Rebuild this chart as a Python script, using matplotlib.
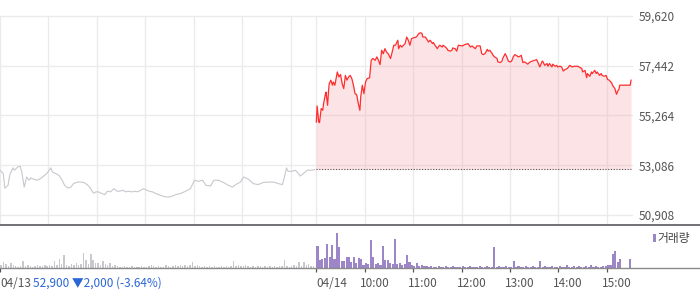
import matplotlib
matplotlib.use('Agg')
import matplotlib.pyplot as plt
from matplotlib.lines import Line2D
from matplotlib.patches import Rectangle
import matplotlib.transforms as mtransforms

plt.rcParams['font.family'] = ['Noto Sans CJK KR', 'DejaVu Sans']

# ---------------- data ----------------
day_labels = ['04/13', '04/14']
hour_labels = ['10:00', '11:00', '12:00', '13:00', '14:00', '15:00']
price_ticks = [50908, 53086, 55264, 57442, 59620]
prev_close = 52900
change_text = '52,900 \u25bc2,000 (-3.64%)'
volume_label = '거래량'

# minutes after 09:00
t_0413 = [0, 4, 6, 10, 12, 16, 18, 22, 25, 27, 30, 33, 36, 38, 42, 46, 51, 54, 58, 63,
          65, 69, 73, 77, 80, 84, 88, 91, 96, 100, 104, 108, 111, 116, 119, 122, 126, 130,
          133, 137, 141, 145, 148, 152, 156, 159, 163, 167, 171, 174, 178, 182, 185, 189,
          193, 199, 205, 211, 218, 224, 230, 236, 241, 246, 251, 255, 261, 265, 271, 277,
          283, 288, 294, 298, 302, 308, 314, 320, 326, 333, 339, 345, 350, 352, 355, 357,
          362, 366, 370, 372, 376, 381, 387, 390]
p_0413 = [52870, 52730, 52080, 52210, 52650, 52970, 52870, 53010, 53040, 52790, 52130,
          52570, 52430, 52530, 52470, 52430, 52520, 52610, 52720, 52970, 52790, 52720,
          52650, 52430, 52210, 52090, 52130, 52280, 52350, 52350, 52330, 52240, 52130,
          51860, 51920, 51920, 51850, 51800, 51950, 51920, 52060, 51950, 51950, 51990,
          51920, 51950, 51920, 51950, 51920, 51990, 52060, 51990, 51950, 51920, 51850,
          51770, 51700, 51700, 51800, 51850, 51950, 52060, 52430, 52380, 52430, 52210,
          52180, 52430, 52430, 52330, 52210, 52130, 52280, 52350, 52570, 52470, 52280,
          52240, 52330, 52350, 52350, 52280, 52240, 52500, 52970, 52820, 52820, 52870,
          52720, 52610, 52720, 52870, 52870, 52900]

t_0414 = [0, 1, 3, 4, 6, 8, 9, 11, 12, 14, 15, 16, 18, 20, 21, 23, 26, 28, 30, 32, 34, 36,
          38, 40, 42, 44, 46, 48, 50, 52, 54, 55, 57, 59, 61, 63, 66, 68, 70, 73, 75, 77,
          79, 81, 83, 85, 87, 89, 92, 94, 96, 98, 101, 102, 104, 106, 108, 110, 112, 114,
          116, 118, 120, 124, 127, 129, 131, 132, 135, 137, 139, 141, 144, 145, 147, 150,
          151, 153, 156, 157, 160, 162, 163, 166, 168, 169, 172, 174, 176, 181, 184, 188,
          191, 193, 197, 199, 203, 205, 207, 209, 212, 213, 215, 218, 219, 221, 224, 225,
          228, 230, 231, 234, 236, 238, 240, 242, 244, 246, 249, 250, 252, 254, 256, 258,
          261, 262, 265, 268, 273, 275, 277, 280, 281, 283, 286, 287, 289, 292, 293, 296,
          298, 299, 302, 304, 306, 308, 311, 312, 314, 317, 320, 324, 329, 330, 333, 335,
          336, 339, 341, 342, 345, 347, 348, 351, 353, 354, 357, 359, 361, 363, 366, 367,
          370, 372, 374, 375, 376, 389, 390]
p_0414 = [54980, 55680, 54980, 54950, 55570, 55490, 55790, 56150, 56290, 55710, 56290,
          56660, 56810, 56590, 56730, 56590, 57170, 56950, 57060, 56660, 56440, 57020,
          56810, 56950, 57020, 56880, 56590, 56220, 56180, 55790, 55490, 56070, 56590,
          56220, 56730, 56880, 56910, 57680, 57760, 57680, 57830, 57680, 57490, 58120,
          57970, 58190, 58040, 57970, 57760, 58040, 58340, 58340, 58560, 58190, 58340,
          58260, 58340, 58410, 58700, 58560, 58340, 58630, 58660, 58700, 58850, 58890,
          58850, 58700, 58700, 58600, 58480, 58560, 58410, 58460, 58340, 58190, 58260,
          58340, 58260, 58340, 58260, 58190, 58120, 58080, 58120, 58220, 58190, 58080,
          58340, 58310, 58370, 58410, 58260, 58310, 58190, 58310, 58310, 57970, 57930,
          57970, 58160, 58080, 58120, 57970, 57900, 57830, 57760, 57610, 57580, 57640,
          57760, 57970, 57830, 57640, 57610, 57640, 57830, 57930, 57870, 57830, 57850,
          57900, 57580, 57610, 57540, 57510, 57610, 57650, 57710, 57560, 57390, 57650,
          57610, 57460, 57540, 57420, 57540, 57390, 57510, 57420, 57460, 57390, 57420,
          57390, 57210, 57270, 57320, 57360, 57460, 57390, 57420, 57420, 57320, 57170,
          57240, 56920, 57100, 56980, 57170, 57100, 57240, 57100, 57170, 57020, 57100,
          57020, 56980, 57020, 56840, 56810, 56690, 56590, 56440, 56190, 56370, 56400,
          56590, 56590, 56810]

# volume per 3-minute bin (130 bins per session)
vol_0413 = [30, 60, 40, 20, 50, 30, 20, 10, 20, 70,
            20, 30, 20, 10, 20, 30, 20, 20, 30, 20,
            30, 20, 70, 30, 90, 40, 130, 30, 20, 40,
            30, 50, 30, 40, 150, 80, 40, 140, 80, 50,
            50, 30, 70, 40, 30, 50, 20, 30, 20, 10,
            10, 20, 10, 10, 20, 10, 10, 10, 20, 10,
            10, 20, 30, 20, 10, 20, 10, 10, 30, 20,
            10, 20, 30, 20, 30, 20, 30, 20, 30, 60,
            20, 30, 20, 10, 20, 10, 20, 10, 20, 10,
            10, 20, 10, 20, 10, 20, 70, 20, 30, 20,
            20, 30, 20, 10, 20, 10, 20, 20, 10, 20,
            10, 20, 10, 20, 10, 20, 20, 80, 20, 10,
            20, 30, 20, 60, 20, 60, 30, 40, 20, 20]
vol_0414 = [220, 80, 90, 100, 240, 110, 230, 90, 350, 210,
            70, 70, 110, 110, 60, 110, 50, 100, 90, 30,
            50, 40, 280, 110, 40, 50, 30, 220, 80, 80,
            50, 40, 290, 40, 50, 30, 40, 130, 60, 30,
            20, 50, 20, 30, 20, 20, 10, 20, 10, 10,
            20, 10, 10, 20, 10, 10, 20, 10, 10, 10,
            20, 10, 10, 20, 10, 10, 10, 20, 10, 10,
            20, 10, 10, 210, 10, 20, 10, 10, 20, 10,
            10, 70, 10, 20, 10, 10, 20, 10, 10, 20,
            10, 10, 70, 10, 20, 10, 10, 20, 10, 10,
            20, 10, 10, 30, 10, 10, 20, 10, 20, 10,
            10, 20, 10, 30, 10, 20, 10, 10, 20, 20,
            30, 30, 140, 170, 60, 90, 0, 0, 0, 90]

# ---------------- layout ----------------
DAY2 = 392          # position of 04/14 09:00 on the continuous session axis
XMAX = 783.2
W, H = 700, 289
fig = plt.figure(figsize=(W / 100, H / 100), dpi=100)
ax = fig.add_axes([0, 64 / H, 632 / W, 209 / H])
vax = fig.add_axes([0, 21 / H, 632 / W, 42 / H])

grid_c = '#ebebeb'
text_c = '#555555'

# price panel
ax.set_xlim(0, XMAX)
ax.set_ylim(50470, 59620)
for y in price_ticks:
    ax.axhline(y, color=grid_c, lw=1, zorder=0, clip_on=False)
for h in range(7):
    ax.axvline(h * 60, color=grid_c, lw=1, zorder=0)
    ax.axvline(DAY2 + h * 60, color=grid_c, lw=1, zorder=0)

ax.plot(t_0413, p_0413, color='#c8c8ce', lw=0.8, zorder=3)
x2 = [DAY2 + t for t in t_0414]
ax.fill_between(x2, p_0414, prev_close, color='#f5a0a8', alpha=0.28, lw=0, zorder=1)
ax.plot(x2, p_0414, color='#ff2d2d', lw=0.9, zorder=3)
ax.plot([DAY2, DAY2 + 390], [prev_close, prev_close], color='#555555', lw=0.8,
        linestyle=(0, (1, 1.5)), zorder=2)

ax.yaxis.tick_right()
ax.set_yticks(price_ticks)
ax.set_yticklabels([f'{v:,}' for v in price_ticks], fontsize=8.5, color=text_c)
ax.tick_params(axis='y', length=0, pad=4.5)
ax.set_xticks([])
for s in ax.spines.values():
    s.set_visible(False)

# volume panel
vax.set_xlim(0, XMAX)
vax.set_ylim(0, 420)
vax.bar([i * 3 + 1.5 for i in range(len(vol_0413))], vol_0413, width=1.8,
        color='#c8c8cd', lw=0)
vax.bar([DAY2 + i * 3 + 1.5 for i in range(len(vol_0414))], vol_0414, width=2.6,
        color='#9c86c8', lw=0)
tick_pos = [0, DAY2] + [DAY2 + 60 * h for h in range(1, 7)]
vax.set_xticks(tick_pos)
vax.set_xticklabels([''] * len(tick_pos))
vax.tick_params(axis='x', length=3, width=0.9, color='#555555', direction='out')
vax.set_yticks([])
for s in vax.spines.values():
    s.set_visible(False)

# full-width rules
fig.add_artist(Line2D([0, 1], [64 / H, 64 / H], transform=fig.transFigure,
                      color='#707075', lw=1.4))
fig.add_artist(Line2D([0, 1], [21 / H, 21 / H], transform=fig.transFigure,
                      color='#8a8a8a', lw=1.0))

# bottom labels
lab_y = (H - 283.5) / H
blend = mtransforms.blended_transform_factory(vax.transData, fig.transFigure)
fig.text(0.0, lab_y, day_labels[0], fontsize=8.5, color=text_c, ha='left', va='center')
fig.text(33 / W, lab_y, change_text, fontsize=8.5, color='#2a66d6', ha='left', va='center')
ax_t = mtransforms.offset_copy(blend, fig=fig, x=0, y=0, units='dots')
fig.text(DAY2, lab_y, day_labels[1], fontsize=8.5, color=text_c, ha='left', va='center',
         transform=ax_t)
hr_t = mtransforms.offset_copy(blend, fig=fig, x=-5, y=0, units='dots')
for h, lab in enumerate(hour_labels, start=1):
    fig.text(DAY2 + 60 * h, lab_y, lab, fontsize=8.5, color=text_c, ha='left',
             va='center', transform=hr_t)

# legend
fig.add_artist(Rectangle((652.7 / W, (H - 242) / H), 3 / W, 8 / H,
                         transform=fig.transFigure, color='#9c86c8', lw=0))
fig.text(657 / W, (H - 238.3) / H, volume_label, fontsize=8.5, color='#444444',
         ha='left', va='center')

fig.savefig('out.png', dpi=100)
